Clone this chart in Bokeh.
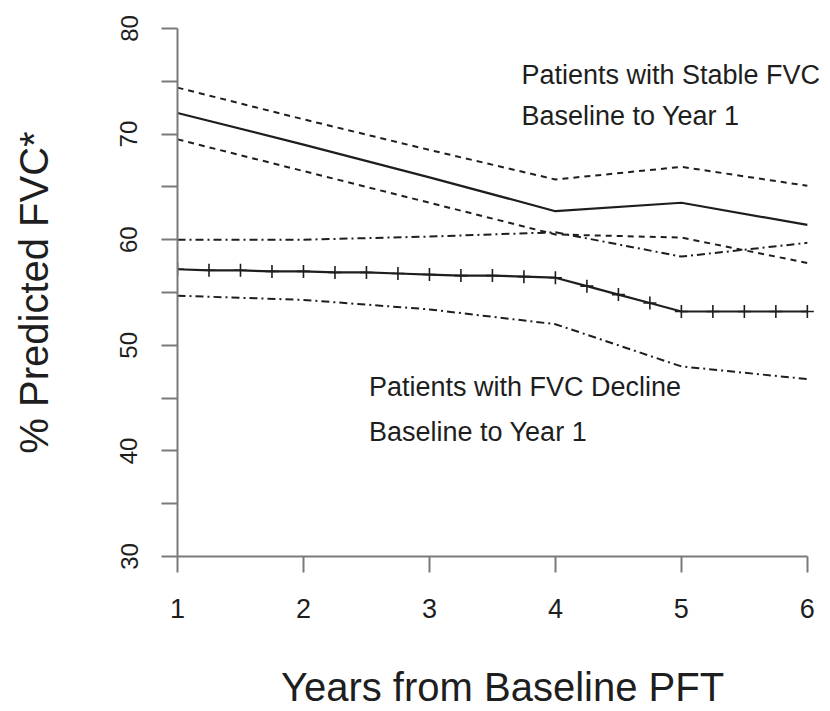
from bokeh.plotting import figure
from bokeh.models import Range1d, FixedTicker, Label
from bokeh.embed import file_html
from bokeh.resources import INLINE

# ---- data ----
years = [1, 2, 3, 4, 5, 6]
stable_mean = [72.0, 69.0, 65.9, 62.7, 63.5, 61.4]
stable_upper = [74.4, 71.4, 68.5, 65.7, 66.9, 65.1]
stable_lower = [69.5, 66.5, 63.5, 60.5, 60.2, 57.8]
decline_upper = [60.0, 60.0, 60.3, 60.7, 58.4, 59.7]
decline_lower = [54.7, 54.3, 53.4, 52.0, 48.0, 46.8]
decline_mean_x = [1.0, 1.25, 1.5, 1.75, 2.0, 2.25, 2.5, 2.75, 3.0, 3.25, 3.5,
                  3.75, 4.0, 4.25, 4.5, 4.75, 5.0, 5.25, 5.5, 5.75, 6.0]
decline_mean = [57.2, 57.1, 57.1, 57.0, 57.0, 56.9, 56.9, 56.8, 56.7, 56.6, 56.6,
                56.5, 56.4, 55.6, 54.8, 54.0, 53.2, 53.2, 53.2, 53.2, 53.2]
x_ticks = [1, 2, 3, 4, 5, 6]
y_ticks_major = [30, 40, 50, 60, 70, 80]
y_ticks_minor = [35, 45, 55, 65, 75]

FONT = "Liberation Sans"
INK = "#1e1e1e"
AXIS = "#7a7a7a"

p = figure(width=830, height=711, x_range=Range1d(1, 6.16), y_range=Range1d(30, 80),
           output_backend="svg", toolbar_location=None,
           min_border_left=177, min_border_right=3, min_border_top=28, min_border_bottom=153)
p.outline_line_color = None
p.xgrid.visible = False
p.ygrid.visible = False
p.background_fill_color = "white"
p.border_fill_color = "white"

# lines
p.line(years, stable_upper, line_color=INK, line_width=2, line_dash="6 5")
p.line(years, stable_mean, line_color=INK, line_width=2.2)
p.line(years, stable_lower, line_color=INK, line_width=2, line_dash="6 5")
p.line(years, decline_upper, line_color=INK, line_width=2, line_dash="8 4 2 4")
p.line(years, decline_lower, line_color=INK, line_width=2, line_dash="8 4 2 4")
p.line(decline_mean_x, decline_mean, line_color=INK, line_width=2.2)
p.scatter(decline_mean_x, decline_mean, marker="cross", size=13, line_color=INK, line_width=1.6)

# axes
xa = p.xaxis[0]
xa.ticker = FixedTicker(ticks=x_ticks)
xa.bounds = (1, 6)
xa.axis_line_color = AXIS
xa.axis_line_width = 2
xa.major_tick_line_color = AXIS
xa.major_tick_line_width = 2
xa.major_tick_out = 16
xa.major_tick_in = 0
xa.minor_tick_line_color = None
xa.major_label_text_font = FONT
xa.major_label_text_font_size = "27px"
xa.major_label_text_color = INK
xa.major_label_standoff = 26
xa.axis_label = "Years from Baseline PFT"
xa.axis_label_text_font = FONT
xa.axis_label_text_font_size = "40px"
xa.axis_label_text_font_style = "normal"
xa.axis_label_text_color = INK
xa.axis_label_standoff = 44

ya = p.yaxis[0]
ya.ticker = FixedTicker(ticks=y_ticks_major, minor_ticks=y_ticks_minor)
ya.bounds = (30, 80)
ya.axis_line_color = AXIS
ya.axis_line_width = 2
ya.major_tick_line_color = AXIS
ya.major_tick_line_width = 2
ya.major_tick_out = 16
ya.major_tick_in = 0
ya.minor_tick_line_color = AXIS
ya.minor_tick_line_width = 2
ya.minor_tick_out = 16
ya.minor_tick_in = 0
ya.major_label_orientation = "parallel"
ya.major_label_text_font = FONT
ya.major_label_text_font_size = "24px"
ya.major_label_text_color = INK
ya.major_label_standoff = 24
ya.axis_label = "% Predicted FVC*"
ya.axis_label_text_font = FONT
ya.axis_label_text_font_size = "40px"
ya.axis_label_text_font_style = "normal"
ya.axis_label_text_color = INK
ya.axis_label_standoff = 62

# annotations
for txt, x, y in [("Patients with Stable FVC", 3.73, 75.6),
                  ("Baseline to Year 1", 3.73, 71.7),
                  ("Patients with FVC Decline", 2.52, 46.05),
                  ("Baseline to Year 1", 2.52, 41.75)]:
    p.add_layout(Label(x=x, y=y, text=txt, text_font=FONT, text_font_size="27px",
                       text_color=INK, text_baseline="alphabetic", text_align="left"))

open("out.html", "w").write(file_html(p, INLINE))
